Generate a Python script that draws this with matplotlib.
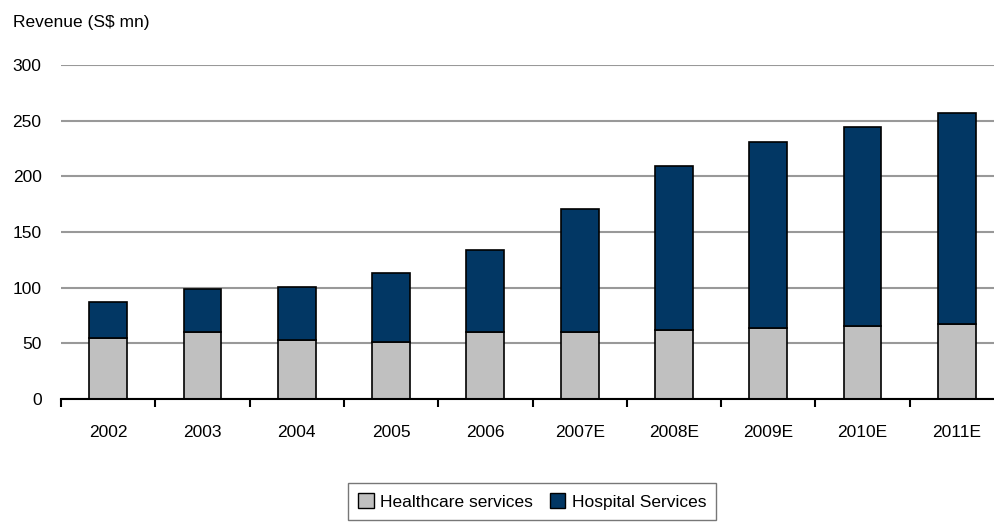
import matplotlib
matplotlib.use("Agg")
import matplotlib.pyplot as plt
import numpy as np
from matplotlib.patches import Patch

years = ["2002", "2003", "2004", "2005", "2006", "2007E", "2008E", "2009E", "2010E", "2011E"]
healthcare = [55, 60.5, 53, 51.5, 60.5, 60.5, 62, 64, 66, 67.5]
hospital = [32, 38.5, 48, 61.5, 73.5, 110.5, 147, 166.5, 178, 189]

plt.rcParams['font.family'] = ['Liberation Sans', 'DejaVu Sans']

W, H = 995, 523
fig = plt.figure(figsize=(W / 100, H / 100), dpi=100)
left, right = 61, 1004
bottom, top = 399, 65
ax = fig.add_axes([left / W, 1 - bottom / H, (right - left) / W, (bottom - top) / H])

x = np.arange(len(years))
ax.bar(x, healthcare, width=0.40, color="#C0C0C0", edgecolor="black", linewidth=1.2, zorder=3)
ax.bar(x, hospital, width=0.40, bottom=healthcare, color="#023764", edgecolor="black", linewidth=1.2, zorder=3)

FS = 12.5
ax.set_xlim(-0.5, 9.5)
ax.set_ylim(0, 300)
ax.set_yticks(range(0, 301, 50))
ax.yaxis.grid(True, color="#999999", linewidth=1.5, zorder=0)
ax.set_axisbelow(True)
ax.tick_params(axis="y", length=0, pad=14, labelsize=FS)
for s in ["top", "right", "left"]:
    ax.spines[s].set_visible(False)
ax.spines["bottom"].set_linewidth(1.5)
ax.spines["bottom"].set_zorder(4)

ax.set_xticks(x)
ax.set_xticklabels(years, fontsize=FS)
ax.tick_params(axis="x", length=0, pad=19)
ax.set_xticks(np.arange(-0.5, 10, 1), minor=True)
ax.tick_params(axis="x", which="minor", length=6, width=1.5, direction="out")

fig.text(13 / W, 1 - 22 / H, "Revenue (S$ mn)", fontsize=FS, va="center", ha="left")

handles = [Patch(facecolor="#C0C0C0", edgecolor="black", label="Healthcare services"),
           Patch(facecolor="#023764", edgecolor="black", label="Hospital Services")]
leg = fig.legend(handles=handles, loc="upper center", bbox_to_anchor=(532 / W, 1 - 483 / H), ncol=2,
                 frameon=True, fancybox=False, fontsize=FS, handlelength=0.9, handleheight=0.9,
                 handletextpad=0.35, columnspacing=1.0, borderpad=0.6, borderaxespad=0,
                 edgecolor="#555555")
leg.get_frame().set_linewidth(1.0)

fig.savefig("out.png", dpi=100)
